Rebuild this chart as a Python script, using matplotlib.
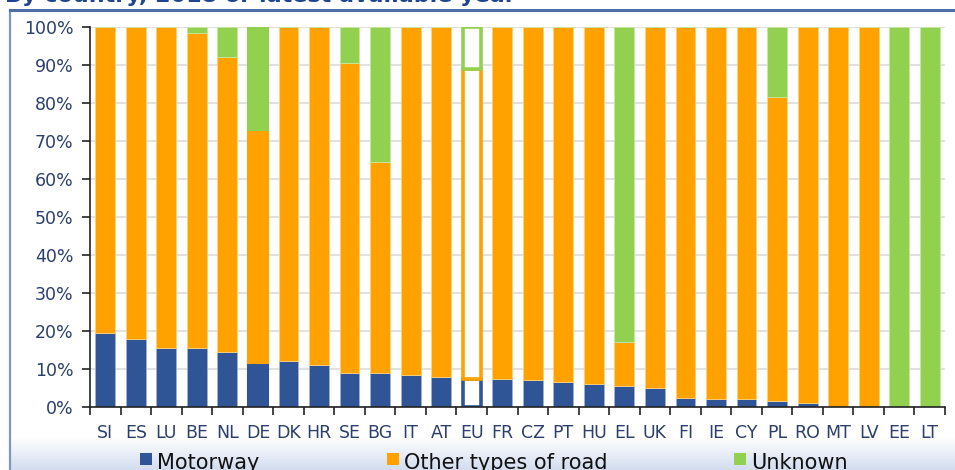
import numpy as np
import matplotlib.pyplot as plt
from matplotlib.patches import Rectangle
from matplotlib.ticker import FixedLocator, PercentFormatter

countries = ["SI", "ES", "LU", "BE", "NL", "DE", "DK", "HR", "SE", "BG", "IT", "AT", "EU", "FR",
             "CZ", "PT", "HU", "EL", "UK", "FI", "IE", "CY", "PL", "RO", "MT", "LV", "EE", "LT"]
motorway = [19.5, 18.0, 15.5, 15.5, 14.5, 11.5, 12.0, 11.0, 9.0, 9.0, 8.5, 8.0, 7.5, 7.5,
            7.0, 6.5, 6.0, 5.5, 5.0, 2.5, 2.2, 2.0, 1.5, 1.0, 0.0, 0.0, 0.0, 0.0]
unknown = [0.0, 0.0, 0.0, 1.5, 8.0, 27.0, 0.0, 0.0, 9.5, 35.5, 0.0, 0.0, 11.0, 0.0,
           0.0, 0.0, 0.0, 83.0, 0.0, 0.0, 0.0, 0.0, 18.5, 0.0, 0.0, 0.0, 100.0, 100.0]
other = [100 - m - u for m, u in zip(motorway, unknown)]

title = "By country, 2018 or latest available year"
legend_labels = ["Motorway", "Other types of road", "Unknown"]

c_mot = "#2f5597"
c_oth = "#ffa200"
c_unk = "#92d050"
txt = "#2b3f6c"

W, H = 955, 470
fig = plt.figure(figsize=(W / 100, H / 100), dpi=100)

# background box + gradient under the legend
bg = fig.add_axes([0, 0, 1, 1], zorder=-5)
bg.set_xlim(0, W)
bg.set_ylim(H, 0)
bg.axis("off")
grad = np.linspace(0, 1, 50).reshape(-1, 1)
bg.imshow(grad, extent=(10, W, H, 437), aspect="auto",
          cmap=plt.matplotlib.colors.LinearSegmentedColormap.from_list("g", ["#ffffff", "#d3ddef"]))
bg.plot([10, 10], [9.5, H], color="#7e96c4", lw=1.6)
bg.plot([10, W], [9.5, 9.5], color="#4f6ea8", lw=2.2)

ax = fig.add_axes([90 / W, 1 - 407 / H, 855 / W, 380 / H])
x = np.arange(len(countries))
bw = 0.65

for i, c in enumerate(countries):
    if c == "EU":
        kw = dict(facecolor="white", linewidth=2.6)
        w = bw - 0.06
    elif c == "DE":
        kw = dict(linewidth=1.5)
        w = bw
    else:
        kw = dict(linewidth=0.6)
        w = bw
    fc = kw.pop("facecolor", None)
    ax.bar(x[i], motorway[i], w, facecolor=fc or c_mot,
           edgecolor=c_mot if c in ("EU", "DE") else "#9fb2d6", **kw)
    ax.bar(x[i], other[i], w, bottom=motorway[i], facecolor=fc or c_oth,
           edgecolor=c_oth if c in ("EU", "DE") else "#ffd27a", **kw)
    ax.bar(x[i], unknown[i], w, bottom=motorway[i] + other[i], facecolor=fc or c_unk,
           edgecolor=c_unk if c in ("EU", "DE") else "#c5e8a0", **kw)

ax.set_xlim(-0.5, len(countries) - 0.5)
ax.set_ylim(0, 100)
ax.set_yticks(np.arange(0, 101, 10))
ax.yaxis.set_major_formatter(PercentFormatter(decimals=0))
ax.set_xticks(x)
ax.set_xticklabels(countries)
ax.xaxis.set_minor_locator(FixedLocator(np.arange(-0.5, len(countries), 1)))
ax.tick_params(axis="x", which="major", length=0, pad=12, labelsize=12.5, labelcolor=txt)
ax.tick_params(axis="x", which="minor", length=6, width=1.2, direction="out", color="#222222")
ax.tick_params(axis="y", length=6, width=1.2, pad=6, labelsize=12.5, labelcolor=txt, color="#222222")
ax.grid(axis="y", color="#dcdcdc", lw=1.2, zorder=0)
ax.set_axisbelow(True)
for s in ["top", "right"]:
    ax.spines[s].set_visible(False)
for s in ["left", "bottom"]:
    ax.spines[s].set_color("#222222")
    ax.spines[s].set_linewidth(1.2)

# title, cut off at the top as in the source
fig.text(5 / W, 1 - 2 / H, title, fontsize=16, fontweight="bold", color="#1f4590",
         ha="left", va="baseline")

# legend along the bottom edge (partly cut off)
leg_x = [140, 387, 734]
for lx, lab, col in zip(leg_x, legend_labels, [c_mot, c_oth, c_unk]):
    bg.add_patch(Rectangle((lx, 453), 12, 12, facecolor=col, edgecolor="none"))
    fig.text((lx + 17) / W, 1 - 470 / H + 0.003, lab, fontsize=15, color="#111111",
             ha="left", va="baseline")

fig.savefig("out.png", dpi=100)
